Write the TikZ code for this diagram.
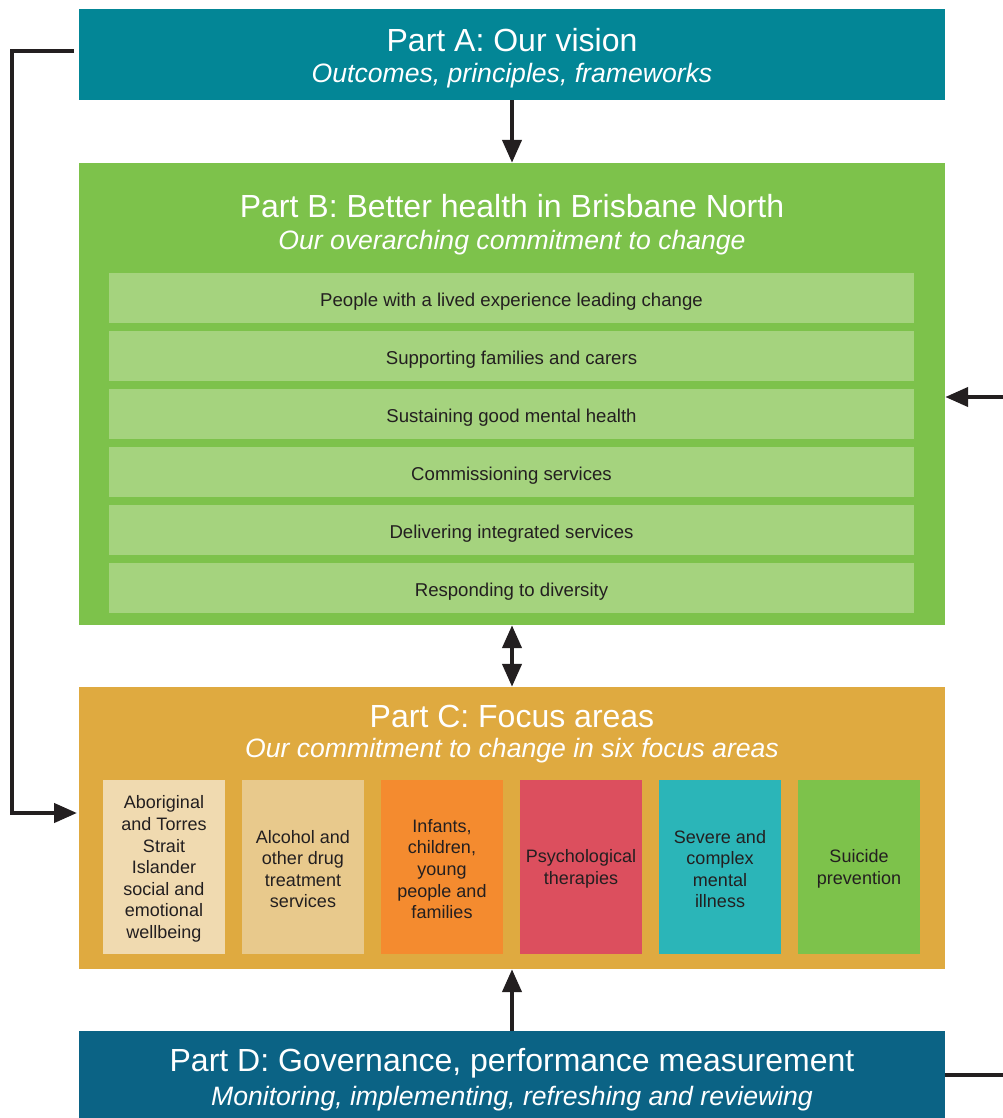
\documentclass[tikz,border=0pt]{standalone}
\usepackage{fontspec}
\setmainfont{Liberation Sans}
\usetikzlibrary{arrows.meta}
\definecolor{cA}{HTML}{038696}
\definecolor{cB}{HTML}{7DC24B}
\definecolor{cBrow}{HTML}{A5D37E}
\definecolor{cC}{HTML}{DFAA40}
\definecolor{cD}{HTML}{0B6385}
\definecolor{f1}{HTML}{F0DAB0}
\definecolor{f2}{HTML}{E8C98C}
\definecolor{f3}{HTML}{F48B2F}
\definecolor{f4}{HTML}{DC4F5E}
\definecolor{f5}{HTML}{2BB5B8}
\definecolor{f6}{HTML}{7DC24B}
\definecolor{ink}{HTML}{231F20}
\tikzset{
  part/.style={draw=none, inner sep=0pt, minimum width=866pt},
  ttl/.style={text=white, font=\fontsize{32}{36}\selectfont, inner sep=0pt},
  sub/.style={text=white, font=\fontsize{26.6}{30}\selectfont\itshape, inner sep=0pt},
  rowbox/.style={fill=cBrow, inner sep=0pt, minimum width=805pt, minimum height=50pt},
  rowtxt/.style={text=ink, inner sep=0pt, font=\fontsize{18.6}{22}\selectfont},
  focus/.style={inner sep=0pt, minimum width=122pt, minimum height=174pt},
  ftxt/.style={text=ink, inner sep=0pt, align=center, font=\fontsize{18}{21.6}\selectfont},
  conn/.style={draw=ink, line width=4.3pt},
  arr/.style={conn, -{Triangle[length=23pt,width=19pt]}},
  darr/.style={conn, {Triangle[length=23pt,width=19pt]}-{Triangle[length=23pt,width=19pt]}},
}
\begin{document}
\begin{tikzpicture}[x=1pt,y=-1pt]
\useasboundingbox (0,0) rectangle (1002,1118);
% Part A
\node[part, fill=cA, minimum height=91pt] (A) at (512,54.5) {};
\node[ttl] (At) at (512,40) {Part A: Our vision};
\node[sub] (As) at (512,76) {Outcomes, principles, frameworks};
% Part B
\node[part, fill=cB, minimum height=462pt] (B) at (512,394) {};
\node[ttl] (Bt) at (512,206) {Part B: Better health in Brisbane North};
\node[sub] (Bs) at (512,243) {Our overarching commitment to change};
\foreach \i/\y/\t in {1/298/People with a lived experience leading change,
                      2/356/Supporting families and carers,
                      3/414/Sustaining good mental health,
                      4/472/Commissioning services,
                      5/530/Delivering integrated services,
                      6/588/Responding to diversity}{
  \node[rowbox] (B\i) at (511.5,\y) {};
  \node[rowtxt] (B\i t) at (511.5,\y+4) {\t};
}
% Part C
\node[part, fill=cC, minimum height=282pt] (C) at (512,828) {};
\node[ttl] (Ct) at (512,716) {Part C: Focus areas};
\node[sub] (Cs) at (512,751) {Our commitment to change in six focus areas};
\node[focus, fill=f1] (C1) at (164,867) {};
\node[focus, fill=f2] (C2) at (303,867) {};
\node[focus, fill=f3] (C3) at (442,867) {};
\node[focus, fill=f4] (C4) at (581,867) {};
\node[focus, fill=f5] (C5) at (720,867) {};
\node[focus, fill=f6] (C6) at (859,867) {};
\node[ftxt] (C1t) at (164,869) {Aboriginal\\and Torres\\Strait\\Islander\\social and\\emotional\\wellbeing};
\node[ftxt] (C2t) at (303,869) {Alcohol and\\other drug\\treatment\\services};
\node[ftxt] (C3t) at (442,869) {Infants,\\children,\\young\\people and\\families};
\node[ftxt] (C4t) at (581,869) {Psychological\\therapies};
\node[ftxt] (C5t) at (720,869) {Severe and\\complex\\mental\\illness};
\node[ftxt] (C6t) at (859,869) {Suicide\\prevention};
% Part D
\node[part, fill=cD, minimum height=92pt] (D) at (512,1077) {};
\node[ttl] (Dt) at (512,1063) {Part D: Governance, performance measurement};
\node[sub] (Ds) at (512,1099) {Monitoring, implementing, refreshing and reviewing};
% connectors
\draw[arr] (A.south) -- (B.north);
\draw[darr] (B.south) -- (C.north);
\draw[arr] (D.north) -- (C.south);
\coordinate (La) at (74,51);
\coordinate (Lc) at (12,51);
\coordinate (Cin) at (77,813);
\draw[arr] (La) -- (Lc) |- (Cin);
\coordinate (Rb) at (1010,397);
\draw[arr] (Rb) -- (B.east |- Rb);
\coordinate (Rd) at (1010,1075);
\draw[conn] (D.east |- Rd) -- (Rd);
\end{tikzpicture}
\end{document}
